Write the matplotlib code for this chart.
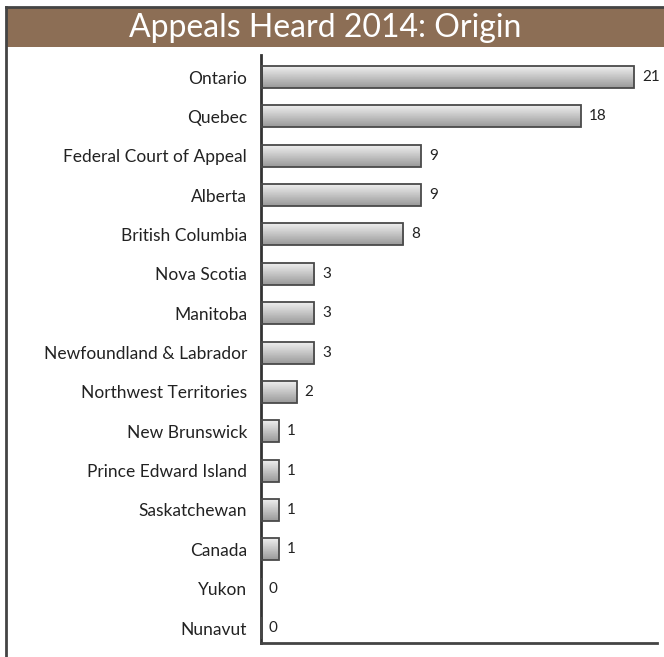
import numpy as np
from matplotlib import pyplot as plt
from matplotlib.patches import Rectangle
from matplotlib.lines import Line2D

regions = [
    "Ontario", "Quebec", "Federal Court of Appeal", "Alberta", "British Columbia",
    "Nova Scotia", "Manitoba", "Newfoundland & Labrador", "Northwest Territories",
    "New Brunswick", "Prince Edward Island", "Saskatchewan", "Canada", "Yukon", "Nunavut",
]
appeals = [21, 18, 9, 9, 8, 3, 3, 3, 2, 1, 1, 1, 1, 0, 0]
title = "Appeals Heard 2014: Origin"

W, H = 664, 657
plt.rcParams["font.family"] = ["Lato", "DejaVu Sans"]
fig = plt.figure(figsize=(W / 100, H / 100), dpi=100)
fig.patch.set_facecolor("white")

# outer frame + title band
fig.add_artist(Rectangle((7 / W, 1 - 47 / H), 1, 39 / H, transform=fig.transFigure,
                         facecolor="#8c6e55", edgecolor="none"))
fig.add_artist(Line2D([6 / W, 6 / W], [0, 1 - 7 / H], transform=fig.transFigure,
                      color="#444444", lw=2))
fig.add_artist(Line2D([6 / W, 1], [1 - 7 / H, 1 - 7 / H], transform=fig.transFigure,
                      color="#444444", lw=2))
fig.text(0.49, 1 - 28 / H, title, ha="center", va="center", color="white", fontsize=23)

ax = fig.add_axes([261 / W, 1 - 643 / H, 396 / W, (643 - 55) / H])
y = np.arange(len(regions))
bars = ax.barh(y, appeals, height=0.56, facecolor="none", edgecolor="#4a4a4a", lw=1.3, zorder=3)

grad = np.linspace(0.95, 0.60, 50).reshape(-1, 1)
for b in bars:
    if b.get_width() <= 0:
        continue
    x0, y0 = b.get_x(), b.get_y()
    im = ax.imshow(grad, cmap="gray", vmin=0, vmax=1, aspect="auto",
                   extent=(x0, x0 + b.get_width(), y0 + b.get_height(), y0), zorder=2)
    im.set_clip_path(b)

for yi, v in zip(y, appeals):
    ax.text(v + 0.45, yi, str(v), va="center", ha="left", fontsize=11, color="#222222")

ax.set_xlim(0, 396 / 17.76)
ax.set_ylim(len(regions) - 1 + 0.38, -0.56)
ax.set_yticks(y)
ax.set_yticklabels(regions, fontsize=12.5, color="#222222")
ax.tick_params(axis="y", length=0, pad=10)
ax.set_xticks([])
for s in ["top", "right"]:
    ax.spines[s].set_visible(False)
ax.spines["left"].set_linewidth(2)
ax.spines["bottom"].set_linewidth(2)
ax.spines["left"].set_color("#333333")
ax.spines["bottom"].set_color("#444444")

fig.savefig("out.png", dpi=100)
